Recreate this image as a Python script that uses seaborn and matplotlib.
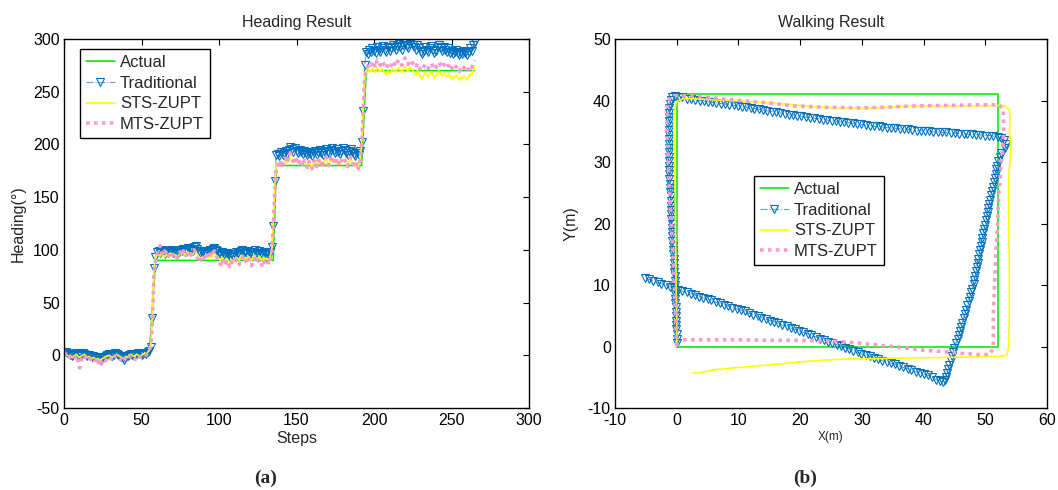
import numpy as np
import seaborn as sns
import matplotlib.pyplot as plt

# ---- data: heading (left panel) ----
actual_steps = [0, 55, 59, 135, 137, 192, 195, 265]
actual_heading = [0, 0, 90, 90, 180, 180, 270, 270]

trad_heading = [
  3, 3, 2, 1, 0, -1, 0, 1, 2, 0, -1, 0, 2, 1, 0, -1, 0, -1, -2, -1,
  -2, -3, -2, -4, -5, -3, -2, -1, 0, 1, 0, -1, 0, 2, 1, 0, -1, -2, -3, -4,
  -2, -1, 0, 1, 0, -1, 0, 1, 2, 1, 0, 1, 2, 1, 3, 4,
  8, 35, 83, 93,
  98, 99, 97, 100, 98, 96, 99, 97, 98, 100, 97, 99, 98, 96, 98, 100, 99, 101, 98, 100,
  102, 100, 101, 99, 103, 104, 101, 99, 97, 98, 96, 98, 99, 97, 100, 98, 101, 102, 100, 99,
  97, 95, 98, 96, 94, 97, 95, 93, 96, 94, 96, 98, 97, 95, 99, 100, 97, 98, 96, 99,
  97, 95, 98, 100, 97, 96, 99, 97, 95, 98, 96, 97, 95, 98,
  103, 123, 165, 190,
  191, 189, 193, 190, 192, 194, 191, 195, 198, 196, 193, 197, 194, 192, 195, 193, 191, 194, 192, 190,
  193, 191, 189, 192, 194, 190, 193, 195, 192, 190, 194, 196, 193, 191, 195, 197, 194, 192, 196, 193,
  191, 194, 197, 195, 192, 190, 194, 196, 193, 191, 189, 192, 190, 194,
  202, 232, 275, 288,
  286, 290, 288, 291, 289, 287, 292, 290, 288, 291, 293, 290, 288, 292, 289, 291, 294, 292, 290, 293,
  295, 292, 290, 294, 296, 293, 291, 295, 297, 294, 292, 290, 294, 291, 288, 286, 289, 292, 290, 288,
  291, 293, 290, 287, 289, 292, 294, 291, 289, 292, 290, 288, 291, 287, 289, 286, 288, 290, 287, 285,
  288, 286, 289, 287, 285, 288, 291, 289, 294, 297,
]

sts_heading = [
  2, 1, 0, -1, 0, -2, -1, 0, 1, -1, -2, -1, 0, 1, 0, -2, -1, -2, -3, -2,
  -3, -4, -3, -5, -4, -3, -2, -1, -1, 0, -1, -2, -1, 0, 1, 0, -1, -2, -3, -2,
  -1, -2, 0, 1, 0, -1, 0, 1, 0, -1, 0, 1, 2, 1, 3, 5,
  10, 40, 80, 92,
  95, 96, 94, 97, 95, 93, 96, 94, 95, 97, 94, 96, 95, 93, 95, 97, 96, 98, 95, 97,
  98, 96, 97, 95, 98, 99, 96, 94, 92, 93, 91, 93, 94, 92, 95, 93, 96, 97, 95, 94,
  92, 90, 93, 91, 89, 92, 90, 88, 91, 89, 91, 93, 92, 90, 94, 95, 92, 93, 91, 94,
  92, 90, 93, 95, 92, 91, 94, 92, 90, 93, 91, 92, 90, 93,
  100, 125, 160, 182,
  182, 180, 184, 181, 183, 185, 182, 186, 188, 185, 183, 186, 184, 182, 185, 183, 181, 184, 182, 180,
  183, 181, 179, 182, 184, 180, 183, 185, 182, 180, 184, 186, 183, 181, 185, 187, 184, 182, 186, 183,
  181, 184, 186, 185, 182, 180, 184, 186, 183, 181, 179, 182, 180, 184,
  200, 235, 265, 270,
  268, 271, 269, 272, 270, 268, 273, 271, 269, 272, 270, 268, 266, 270, 267, 269, 272, 270, 268, 271,
  273, 270, 268, 272, 274, 271, 269, 273, 272, 270, 268, 266, 270, 267, 264, 262, 265, 268, 266, 264,
  267, 269, 266, 263, 265, 268, 270, 267, 265, 268, 266, 264, 267, 263, 265, 262, 264, 266, 263, 261,
  264, 262, 265, 263, 261, 264, 267, 265, 270, 274,
]

mts_heading = [
  3, 1, -1, -3, -1, -2, -4, -2, 0, -6, -12, -5, -1, 0, -2, -3, -1, -4, -2, -3,
  -5, -3, -7, -4, -8, -6, -3, -5, -2, -1, -3, -5, -2, -1, 0, -2, -4, -3, -6, -4,
  -2, -1, -3, 0, -1, -2, -4, -1, 0, -2, -1, 0, 1, 0, 3, 6,
  8, 30, 75, 90,
  96, 101, 104, 98, 95, 99, 97, 93, 96, 98, 95, 97, 94, 92, 96, 98, 95, 99, 96, 94,
  97, 99, 95, 98, 100, 96, 92, 88, 91, 89, 93, 90, 95, 92, 96, 94, 97, 99, 95, 92,
  89, 86, 91, 88, 85, 90, 87, 84, 89, 86, 88, 91, 89, 86, 92, 93, 88, 90, 87, 91,
  88, 85, 90, 92, 87, 89, 91, 88, 84, 89, 87, 90, 86, 91,
  98, 120, 155, 178,
  181, 178, 184, 180, 183, 187, 182, 189, 192, 186, 184, 188, 185, 181, 186, 183, 179, 185, 182, 178,
  184, 180, 177, 183, 186, 179, 184, 187, 181, 178, 185, 188, 183, 180, 186, 189, 184, 181, 187, 183,
  180, 185, 188, 186, 182, 179, 185, 188, 183, 180, 178, 183, 177, 184,
  198, 230, 262, 272,
  274, 277, 275, 279, 276, 273, 280, 278, 275, 279, 277, 274, 272, 276, 273, 275, 279, 277, 274, 278,
  280, 277, 275, 279, 282, 278, 276, 280, 279, 277, 275, 273, 277, 274, 271, 270, 273, 276, 274, 272,
  275, 277, 274, 271, 273, 276, 278, 275, 273, 276, 274, 272, 275, 271, 273, 270, 272, 274, 271, 269,
  272, 270, 273, 271, 269, 272, 275, 273, 277, 280,
]

# ---- data: walking trajectory (right panel) ----
actual_x = [0, 0, 52, 52, 0]
actual_y = [0, 41, 41, 0, 0]

trad_x = [
  0.0, 0.0, 0.0, -0.1, -0.1, -0.1, -0.1, -0.1, -0.1, -0.2, -0.2, -0.2, -0.2, -0.2, -0.3, -0.3, -0.4, -0.4, -0.5, -0.5,
  -0.6, -0.6, -0.6, -0.7, -0.7, -0.7, -0.8, -0.8, -0.9, -0.9, -0.9, -1.0, -1.0, -1.0, -1.1, -1.1, -1.1, -1.2, -1.2, -1.2,
  -1.3, -1.3, -1.3, -1.3, -1.3, -1.3, -1.3, -1.3, -1.3, -1.3, -1.3, -1.3, -1.2, -1.2, -1.1, -1.0,
  -0.8, -0.3, 0.3, 0.9,
  1.6, 2.3, 3.0, 3.7, 4.4, 5.1, 5.7, 6.4, 7.1, 7.8, 8.5, 9.2, 9.9, 10.6, 11.3, 12.0, 12.6, 13.3, 14.0, 14.7,
  15.4, 16.1, 16.8, 17.5, 18.2, 18.9, 19.5, 20.2, 20.9, 21.6, 22.3, 23.0, 23.7, 24.4, 25.1, 25.8, 26.4, 27.1, 27.8, 28.5,
  29.2, 29.9, 30.6, 31.3, 32.0, 32.7, 33.3, 34.0, 34.7, 35.4, 36.1, 36.8, 37.5, 38.2, 38.9, 39.6, 40.2, 40.9, 41.6, 42.3,
  43.0, 43.7, 44.4, 45.1, 45.8, 46.5, 47.1, 47.8, 48.5, 49.2, 49.9, 50.6, 51.3, 52.0,
  52.6, 53.1, 53.3, 53.2,
  52.6, 52.4, 52.1, 51.9, 51.8, 51.7, 51.5, 51.4, 51.2, 51.1, 50.9, 50.8, 50.6, 50.5, 50.4, 50.2, 50.1, 50.0, 49.8, 49.7,
  49.5, 49.4, 49.3, 49.1, 49.0, 48.9, 48.8, 48.6, 48.5, 48.4, 48.2, 48.1, 47.9, 47.7, 47.5, 47.3, 47.1, 46.9, 46.7, 46.5,
  46.3, 46.1, 45.9, 45.7, 45.5, 45.2, 45.0, 44.8, 44.6, 44.4, 44.2, 44.0, 43.8, 43.6,
  43.4, 43.1, 42.6, 42.0,
  41.4, 40.7, 40.1, 39.4, 38.7, 38.0, 37.4, 36.7, 36.0, 35.3, 34.7, 34.0, 33.3, 32.6, 32.0, 31.3, 30.6, 29.9, 29.3, 28.6,
  27.9, 27.2, 26.6, 25.9, 25.2, 24.5, 23.9, 23.2, 22.5, 21.8, 21.2, 20.5, 19.8, 19.1, 18.5, 17.8, 17.1, 16.4, 15.8, 15.1,
  14.4, 13.7, 13.1, 12.4, 11.7, 11.0, 10.4, 9.7, 9.0, 8.3, 7.7, 7.0, 6.3, 5.6, 5.0, 4.3, 3.6, 2.9, 2.3, 1.6,
  0.9, 0.2, -0.4, -1.1, -1.8, -2.5, -3.1, -3.8, -4.5, -5.2,
]
trad_y = [
  0.6, 1.3, 2.0, 2.8, 3.5, 4.2, 4.9, 5.6, 6.4, 7.1, 7.8, 8.5, 9.2, 10.0, 10.7, 11.4, 12.1, 12.8, 13.6, 14.3,
  15.0, 15.7, 16.4, 17.2, 17.9, 18.6, 19.3, 20.0, 20.8, 21.5, 22.2, 22.9, 23.6, 24.4, 25.1, 25.8, 26.5, 27.2, 28.0, 28.7,
  29.4, 30.1, 30.8, 31.6, 32.3, 33.0, 33.7, 34.4, 35.2, 35.9, 36.6, 37.3, 38.0, 38.8, 39.5, 40.1,
  40.5, 40.7, 40.6, 40.5,
  40.3, 40.2, 40.1, 40.0, 39.9, 39.8, 39.7, 39.6, 39.5, 39.4, 39.3, 39.2, 39.1, 39.0, 38.9, 38.8, 38.7, 38.6, 38.4, 38.3,
  38.2, 38.1, 38.0, 37.8, 37.7, 37.6, 37.5, 37.4, 37.3, 37.2, 37.1, 37.0, 36.9, 36.8, 36.7, 36.6, 36.5, 36.5, 36.4, 36.3,
  36.2, 36.1, 36.0, 35.9, 35.8, 35.8, 35.7, 35.6, 35.5, 35.5, 35.4, 35.3, 35.3, 35.2, 35.1, 35.1, 35.0, 35.0, 34.9, 34.9,
  34.8, 34.8, 34.7, 34.7, 34.6, 34.6, 34.5, 34.5, 34.4, 34.4, 34.3, 34.3, 34.2, 34.1,
  33.9, 33.5, 32.9, 32.2,
  31.5, 30.8, 30.1, 29.4, 28.8, 28.1, 27.4, 26.7, 26.0, 25.3, 24.6, 23.9, 23.2, 22.6, 21.9, 21.2, 20.5, 19.8, 19.1, 18.4,
  17.7, 17.0, 16.3, 15.7, 15.0, 14.3, 13.6, 12.9, 12.2, 11.5, 10.8, 10.1, 9.4, 8.8, 8.1, 7.4, 6.7, 6.0, 5.3, 4.6,
  3.9, 3.2, 2.5, 1.9, 1.2, 0.5, -0.2, -0.9, -1.6, -2.3, -3.0, -3.7, -4.3, -5.0,
  -5.5, -5.7, -5.6, -5.4,
  -5.0, -4.7, -4.5, -4.3, -4.1, -3.8, -3.6, -3.4, -3.2, -2.9, -2.7, -2.5, -2.3, -2.1, -1.9, -1.6, -1.4, -1.2, -0.9, -0.7,
  -0.4, -0.2, 0.1, 0.3, 0.6, 0.8, 1.1, 1.3, 1.6, 1.8, 2.1, 2.3, 2.6, 2.8, 3.0, 3.3, 3.5, 3.8, 4.0, 4.2,
  4.5, 4.7, 4.9, 5.2, 5.4, 5.7, 5.9, 6.1, 6.3, 6.6, 6.8, 7.0, 7.2, 7.5, 7.7, 7.9, 8.1, 8.4, 8.6, 8.8,
  9.0, 9.2, 9.5, 9.7, 10.0, 10.2, 10.5, 10.7, 10.9, 11.2,
]

sts_x = [0.0, 0.0, -0.1, -0.2, -0.3, -0.5, -0.4, 0.0, 1.0, 3.0, 8.0, 12.0, 18.0, 22.0, 26.0, 30.0,
         34.0, 38.0, 44.0, 48.0, 52.0, 53.4, 53.9, 54.0, 53.9, 54.1, 54.1, 53.8, 53.8, 53.9, 53.9,
         53.8, 53.5, 52.5, 48.0, 42.0, 36.0, 31.0, 28.0, 24.0, 20.0, 15.0, 10.0, 6.0, 3.5, 2.5]
sts_y = [0.0, 5.0, 10.0, 20.0, 30.0, 36.0, 38.5, 39.8, 40.3, 40.3, 40.0, 39.8, 39.4, 39.0, 38.8, 38.7,
         38.9, 39.1, 39.1, 39.1, 39.2, 39.0, 38.4, 37.0, 35.0, 33.0, 31.0, 28.0, 20.0, 12.0, 5.0,
         0.0, -1.4, -1.6, -1.7, -1.8, -1.9, -2.0, -2.0, -2.2, -2.5, -3.0, -3.4, -3.8, -4.3, -4.3]

mts_x = [0.0, -0.1, -0.3, -0.6, -1.0, -1.3, -1.5, -1.6, -1.5, -1.0, 0.0, 2.0, 5.0, 10.0, 15.0, 19.0,
         24.0, 30.0, 34.0, 38.0, 44.0, 49.0, 52.2, 52.9, 53.0, 52.9, 52.6, 52.2, 52.0, 51.7, 51.5,
         51.3, 51.3, 50.8, 49.0, 46.0, 44.0, 40.0, 36.0, 32.0, 28.0, 25.0, 20.0, 15.0, 10.0, 5.0, 1.0, 0.3]
mts_y = [0.0, 3.0, 8.0, 15.0, 22.0, 28.0, 33.0, 37.0, 39.5, 40.5, 40.8, 40.8, 40.5, 40.0, 39.6, 39.1,
         38.9, 38.8, 38.9, 39.1, 39.2, 39.3, 39.3, 38.7, 36.0, 33.0, 30.0, 25.0, 20.0, 15.0, 10.0,
         5.0, 0.0, -1.3, -1.3, -1.1, -0.9, -0.6, -0.1, 0.3, 0.7, 0.9, 1.0, 1.0, 1.1, 1.1, 1.1, 1.1]

labels = ['Actual', 'Traditional', 'STS-ZUPT', 'MTS-ZUPT']

# ---- styles ----
GREEN = '#00e600'
BLUE = '#0070c0'
BLUE_LINE = '#5ba3dc'
YELLOW = '#ffff00'
PINK = '#ff99cc'

sns.set_style('white')
plt.rcParams['font.family'] = ['Liberation Sans', 'DejaVu Sans']
plt.rcParams['axes.unicode_minus'] = False


def draw_series(ax, ax_x, ax_y):
  """draw the four series on one axes; ax_x / ax_y are lists of 4 x/y arrays"""
  common = dict(ax=ax, sort=False, estimator=None)
  sns.lineplot(x=ax_x[0], y=ax_y[0], color=GREEN, lw=1.1, label=labels[0], **common)
  sns.lineplot(x=ax_x[1], y=ax_y[1], color=BLUE_LINE, lw=0.8, linestyle='-.',
               marker='v', markersize=6, markerfacecolor='none', markeredgecolor=BLUE,
               markeredgewidth=0.8, label=labels[1], **common)
  sns.lineplot(x=ax_x[2], y=ax_y[2], color=YELLOW, lw=1.2, label=labels[2], **common)
  sns.lineplot(x=ax_x[3], y=ax_y[3], color=PINK, lw=2.6, linestyle=(0, (1, 1.2)),
               label=labels[3], **common)


def style_axes(ax):
  for s in ax.spines.values():
    s.set_color('black')
    s.set_linewidth(1.0)
  ax.tick_params(direction='in', length=4, width=0.8, top=True, right=True,
                 labelsize=11.5, colors='black')
  ax.tick_params(axis='x', pad=3.5)
  ax.tick_params(axis='y', pad=3)


fig = plt.figure(figsize=(10.58, 4.9), dpi=100)
ax1 = fig.add_axes([0.0605, 0.1673, 0.4395, 0.7531])
ax2 = fig.add_axes([0.5813, 0.1673, 0.4083, 0.7531])

steps = np.arange(len(trad_heading))
draw_series(ax1,
            [actual_steps, steps, np.arange(len(sts_heading)), np.arange(len(mts_heading))],
            [actual_heading, trad_heading, sts_heading, mts_heading])
ax1.set_xlim(0, 300)
ax1.set_ylim(-50, 300)
ax1.set_xticks(range(0, 301, 50))
ax1.set_yticks(range(-50, 301, 50))
ax1.set_title('Heading Result', fontsize=11.5, pad=9)
ax1.set_xlabel('Steps', fontsize=11.5)
ax1.set_ylabel('Heading(°)', fontsize=11.5)
ax1.xaxis.set_label_coords(0.5, -0.062)
ax1.yaxis.set_label_coords(-0.083, 0.5)
style_axes(ax1)

draw_series(ax2, [actual_x, trad_x, sts_x, mts_x], [actual_y, trad_y, sts_y, mts_y])
ax2.set_xlim(-10, 60)
ax2.set_ylim(-10, 50)
ax2.set_xticks(range(-10, 61, 10))
ax2.set_yticks(range(-10, 51, 10))
ax2.set_title('Walking Result', fontsize=11.5, pad=9)
ax2.set_xlabel('X(m)', fontsize=8.5)
ax2.set_ylabel('Y(m)', fontsize=11.5)
ax2.xaxis.set_label_coords(0.5, -0.062)
ax2.yaxis.set_label_coords(-0.085, 0.5)
style_axes(ax2)

leg_kw = dict(frameon=True, fancybox=False, edgecolor='black', framealpha=1, fontsize=12,
              handlelength=1.75, handletextpad=0.3, labelspacing=0.35, borderpad=0.35,
              borderaxespad=0, numpoints=1)
l1 = ax1.legend(loc='upper left', bbox_to_anchor=(0.034, 0.973), **leg_kw)
l2 = ax2.legend(loc='center', bbox_to_anchor=(0.472, 0.508), **leg_kw)
for lg in (l1, l2):
  lg.get_frame().set_linewidth(1.0)

fig.text(0.251, 0.0245, '(a)', ha='center', va='center', fontsize=14, fontweight='bold',
         family=['Liberation Serif', 'DejaVu Serif'])
fig.text(0.761, 0.0245, '(b)', ha='center', va='center', fontsize=14, fontweight='bold',
         family=['Liberation Serif', 'DejaVu Serif'])

fig.savefig('out.png', dpi=100)
